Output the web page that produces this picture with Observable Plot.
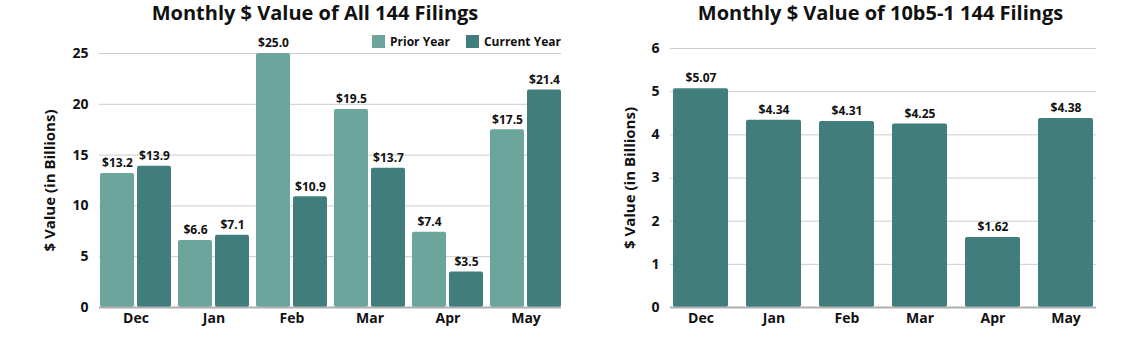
<!DOCTYPE html>
<html>
<head>
<meta charset="utf-8">
<script src="https://cdn.jsdelivr.net/npm/d3@7"></script>
<script src="https://cdn.jsdelivr.net/npm/@observablehq/plot@0.6"></script>
<style>
  body { margin: 0; background: #fff; font-family: "Open Sans", sans-serif; }
  #wrap { position: relative; width: 1141px; height: 343px; display: flex; overflow: hidden; }
  .panel { position: relative; }
  .title { height: 28px; line-height: 26px; font-size: 20px; font-weight: 700; color: #111; text-align: center; white-space: nowrap; }
  .legend { position: absolute; top: 33px; display: flex; gap: 16px; font-size: 12px; font-weight: 700; color: #111; }
  .legend span.item { display: flex; align-items: center; gap: 5px; }
  .legend span.sw { width: 13px; height: 13px; display: inline-block; }
  svg { display: block; }
</style>
</head>
<body>
<div id="wrap">
  <div class="panel" id="left" style="width:570px">
    <div class="title" style="padding-left:60px">Monthly $ Value of All 144 Filings</div>
    <div class="legend" style="left:372px">
      <span class="item"><span class="sw" style="background:#6ba59b"></span>Prior Year</span>
      <span class="item"><span class="sw" style="background:#427d7e"></span>Current Year</span>
    </div>
  </div>
  <div class="panel" id="right" style="width:571px">
    <div class="title" style="padding-left:50px">Monthly $ Value of 10b5-1 144 Filings</div>
  </div>
</div>
<script>
const months = ["Dec", "Jan", "Feb", "Mar", "Apr", "May"];
const priorYear = [13.2, 6.6, 25.0, 19.5, 7.4, 17.5];
const currentYear = [13.9, 7.1, 10.9, 13.7, 3.5, 21.4];
const plan10b5 = [5.07, 4.34, 4.31, 4.25, 1.62, 4.38];
const leftTicks = [0, 5, 10, 15, 20, 25];
const rightTicks = [0, 1, 2, 3, 4, 5, 6];

const PRIOR = "#6ba59b", CURRENT = "#427d7e";
const yLabel = "$ Value (in Billions)";

const leftData = months.map((m, i) => ({month: m, prior: priorYear[i], current: currentYear[i]}));
const rightData = months.map((m, i) => ({month: m, value: plan10b5[i]}));

const left = Plot.plot({
  width: 570, height: 315,
  marginLeft: 99, marginRight: 9, marginTop: 25, marginBottom: 36,
  style: {fontFamily: "Open Sans", fontWeight: "bold", fontSize: "14px", color: "#111", background: "white"},
  x: {domain: months, paddingInner: 0.09, paddingOuter: 0},
  y: {domain: [0, 25]},
  marks: [
    Plot.gridY(leftTicks, {stroke: "#cccccc", strokeOpacity: 1}),
    Plot.barY(leftData, {x: "month", y: "prior", fill: PRIOR, insetRight: 37, rx: 2}),
    Plot.barY(leftData, {x: "month", y: "current", fill: CURRENT, insetLeft: 37, rx: 2}),
    Plot.ruleY([0], {stroke: "#b0b0b0", strokeWidth: 2}),
    Plot.text(leftData, {x: "month", y: "prior", text: d => "$" + d.prior.toFixed(1), dx: -18.5, dy: -10, fontSize: 12, fill: "#111"}),
    Plot.text(leftData, {x: "month", y: "current", text: d => "$" + d.current.toFixed(1), dx: 18.5, dy: -10, fontSize: 12, fill: "#111"}),
    Plot.axisX({tickSize: 0, tickPadding: 6, label: null, fontSize: 14}),
    Plot.axisY(leftTicks, {tickSize: 0, tickPadding: 11, label: null, fontSize: 14}),
    Plot.text([yLabel], {text: d => d, frameAnchor: "left", textAnchor: "middle", rotate: -90, dx: -49, fontSize: 15, fill: "#111"})
  ]
});

const right = Plot.plot({
  width: 571, height: 315,
  marginLeft: 100, marginRight: 45, marginTop: 20, marginBottom: 36,
  style: {fontFamily: "Open Sans", fontWeight: "bold", fontSize: "14px", color: "#111", background: "white"},
  x: {domain: months, paddingInner: 0.24, paddingOuter: 0},
  y: {domain: [0, 6]},
  marks: [
    Plot.gridY(rightTicks, {stroke: "#cccccc", strokeOpacity: 1}),
    Plot.barY(rightData, {x: "month", y: "value", fill: CURRENT, rx: 2}),
    Plot.ruleY([0], {stroke: "#b0b0b0", strokeWidth: 2}),
    Plot.text(rightData, {x: "month", y: "value", text: d => "$" + d.value.toFixed(2), dy: -10, fontSize: 12, fill: "#111"}),
    Plot.axisX({tickSize: 0, tickPadding: 6, label: null, fontSize: 14}),
    Plot.axisY(rightTicks, {tickSize: 0, tickPadding: 11, label: null, fontSize: 14}),
    Plot.text([yLabel], {text: d => d, frameAnchor: "left", textAnchor: "middle", rotate: -90, dx: -40, fontSize: 15, fill: "#111"})
  ]
});

document.getElementById("left").appendChild(left);
document.getElementById("right").appendChild(right);
</script>
</body>
</html>
